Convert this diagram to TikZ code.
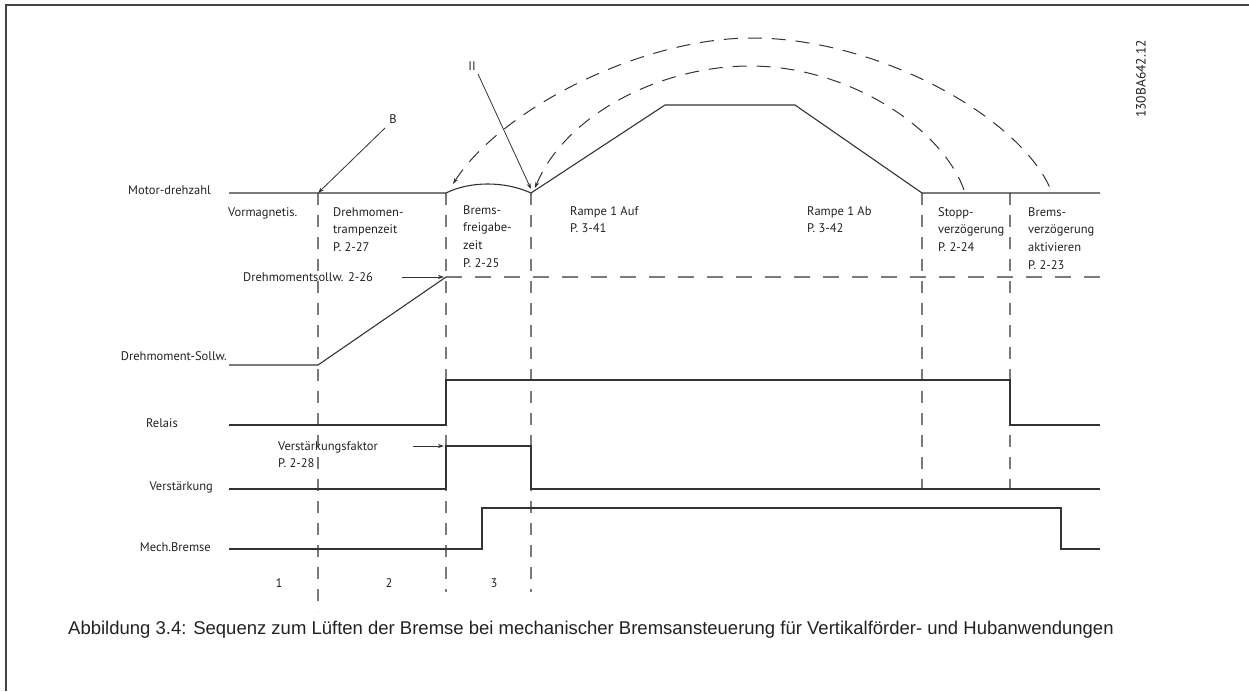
\documentclass[tikz,border=0pt]{standalone}
\usepackage{fontspec}
\setmainfont{PT Sans}
\newfontfamily\capfont{Liberation Sans}
\usetikzlibrary{arrows.meta}
\definecolor{ln}{HTML}{333333}
\definecolor{dl}{HTML}{7A7A7A}
\definecolor{tx}{HTML}{222222}
\definecolor{fr}{HTML}{444444}
\begin{document}
\begin{tikzpicture}[x=1pt,y=-1pt,
  sig/.style={draw=ln, line width=1.1pt},
  vdash/.style={draw=dl, line width=1.4pt, dash pattern=on 12pt off 10pt},
  hdash/.style={draw=dl, line width=1.4pt, dash pattern=on 16pt off 13pt},
  arcdash/.style={draw=ln, line width=1pt, dash pattern=on 14pt off 10pt},
  lbl/.style={font=\fontsize{12.5}{17.5}\selectfont, text=tx, inner sep=0pt},
  rlbl/.style={lbl, anchor=base east},
  blk/.style={lbl, font=\fontsize{12.5}{17.8}\selectfont, anchor=north west, align=left},
  tipline/.style={draw=ln, line width=0.8pt, -{Stealth[length=6pt,width=4pt]}},
  arcstart/.style={{Stealth[length=6pt,width=4pt]}-}
]
\useasboundingbox (0,0) rectangle (1249,691);
% frame
\draw[fr, line width=1.5pt] (6,691) -- (6,5) -- (1249,5);

% vertical dashed phase lines
\coordinate (v1t) at (318,193); \coordinate (v1b) at (318,611);
\coordinate (v2t) at (446,193); \coordinate (v2b) at (446,592);
\coordinate (v3t) at (531,193); \coordinate (v3b) at (531,592);
\coordinate (v4t) at (922,193); \coordinate (v4b) at (922,489);
\coordinate (v5t) at (1010,193); \coordinate (v5b) at (1010,489);
\draw[vdash] (v1t) -- (v1b);
\draw[vdash] (v2t) -- (v2b);
\draw[vdash] (v3t) -- (v3b);
\draw[vdash] (v4t) -- (v4b);
\draw[vdash] (v5t) -- (v5b);

% torque setpoint dashed level
\coordinate (tq) at (446,277);
\draw[hdash] (tq) -- (1100,277);

% motor speed
\draw[sig] (229,193) -- (v2t) .. controls (470,181) and (505,181) .. (v3t)
  -- (665,105) -- (795,105) -- (v4t) -- (1100,193);

% dashed arcs
\draw[arcdash, arcstart] (453,184) .. controls (500,110) and (640,38) .. (752,38)
  .. controls (880,38) and (1025,120) .. (1052,193);
\draw[arcdash, arcstart] (535,188) .. controls (565,115) and (660,66) .. (750,66)
  .. controls (850,66) and (945,130) .. (965,193);

% torque setpoint
\draw[sig] (229,365) -- (318,365) -- (tq);
% relais
\draw[sig] (229,425) -- (446,425) -- (446,380) -- (1010,380) -- (1010,425) -- (1100,425);
% verstaerkung
\draw[sig] (229,489) -- (446,489) -- (446,446) -- (531,446) -- (531,489) -- (1100,489);
% mech bremse
\draw[sig] (229,549) -- (482,549) -- (482,508) -- (1061,508) -- (1061,549) -- (1100,549);

% left labels
\node[rlbl] (lmotor) at (211,194.5) {Motor-drehzahl};
\node[rlbl] (ltorque) at (227,360.5) {Drehmoment-Sollw.};
\node[rlbl] (lrelais) at (178,427.5) {Relais};
\node[rlbl] (lverst) at (213,490) {Verstärkung};
\node[rlbl] (lmech) at (211,551) {Mech.Bremse};

% phase texts
\node[blk] (t1) at (228,207) {Vormagnetis.};
\node[blk] (t2) at (333,207) {Drehmomen-\\trampenzeit\\P. 2-27};
\node[blk] (t3) at (463,205) {Brems-\\freigabe-\\zeit\\P. 2-25};
\node[blk] (t4) at (570,206) {Rampe 1 Auf\\P. 3-41};
\node[blk] (t5) at (807,206) {Rampe 1 Ab\\P. 3-42};
\node[blk] (t6) at (938,207) {Stopp-\\verzögerung\\P. 2-24};
\node[blk] (t7) at (1028,207) {Brems-\\verzögerung\\aktivieren\\P. 2-23};

% annotation arrows
\node[lbl] (lb) at (393,119) {B};
\node[lbl] (lii) at (472,66) {II};
\draw[tipline] (385,128) -- (v1t);
\draw[tipline] (478,74) -- (531,189);

\node[lbl, anchor=base west] (tqs) at (243,281.5) {Drehmomentsollw. 2-26};
\coordinate (tqa) at (402,277);
\draw[tipline] (tqa) -- (444,277);

\node[blk] (vf) at (278,441) {Verstärkungsfaktor\\P. 2-28};
\coordinate (vfa) at (413,446);
\draw[tipline] (vfa) -- (444,446);

% phase numbers
\node[lbl] (n1) at (279,583) {1};
\node[lbl] (n2) at (389,583) {2};
\node[lbl] (n3) at (494,583) {3};

% id code
\node[lbl, rotate=90, font=\fontsize{13.5}{15}\selectfont] (id) at (1141,79) {130BA642.12};

% caption
\node[anchor=base west, inner sep=0pt, text=tx, font=\capfont\fontsize{18.5}{22}\selectfont] (cap) at (68,634)
  {Abbildung 3.4: Sequenz zum Lüften der Bremse bei mechanischer Bremsansteuerung für Vertikalförder- und Hubanwendungen};
\end{tikzpicture}
\end{document}
